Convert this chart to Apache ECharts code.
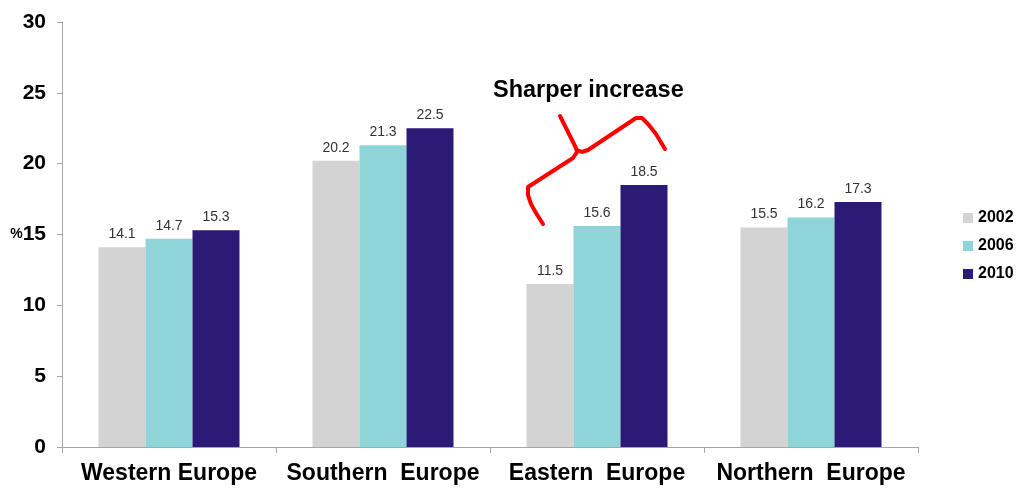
<!DOCTYPE html>
<html>
<head>
<meta charset="utf-8">
<script src="https://cdn.jsdelivr.net/npm/echarts@6/dist/echarts.min.js"></script>
<style>html,body{margin:0;padding:0;background:#fff}#c{width:1024px;height:494px}</style>
</head>
<body>
<div id="c"></div>
<script>
const categories = ['Western Europe', 'Southern  Europe', 'Eastern  Europe', 'Northern  Europe'];
const seriesNames = ['2002', '2006', '2010'];
const values2002 = [14.1, 20.2, 11.5, 15.5];
const values2006 = [14.7, 21.3, 15.6, 16.2];
const values2010 = [15.3, 22.5, 18.5, 17.3];
const colors = ['#d3d3d3', '#8fd4d9', '#2b1a76'];
const annotationText = 'Sharper increase';

const chart = echarts.init(document.getElementById('c'));
const font = 'Liberation Sans, Arial, sans-serif';
const mk = (name, data, color) => ({
  name, type: 'bar', data, barWidth: 47, barGap: '0%',
  itemStyle: { color },
  label: { show: true, position: 'top', distance: 6, color: '#333', fontSize: 14, fontFamily: font,
           formatter: p => p.value.toFixed(1) }
});
const bracketStyle = { fill: null, stroke: '#ff0000', lineWidth: 4, lineCap: 'round', lineJoin: 'round' };
chart.setOption({
  animation: false,
  color: colors,
  textStyle: { fontFamily: font },
  grid: { left: 62, right: 106, top: 22, bottom: 47, containLabel: false },
  legend: {
    orient: 'vertical', left: 958, top: 205, itemWidth: 10, itemHeight: 10, itemGap: 12,
    icon: 'rect',
    textStyle: { fontSize: 16, fontWeight: 'bold', color: '#000', fontFamily: font },
    data: seriesNames
  },
  xAxis: {
    type: 'category', data: categories,
    axisLine: { lineStyle: { color: '#a6a6a6', width: 1 } },
    axisTick: { show: true, length: 6, lineStyle: { color: '#a6a6a6' } },
    axisLabel: { interval: 0, fontSize: 23, fontWeight: 'bold', color: '#000', margin: 15, fontFamily: font }
  },
  yAxis: {
    type: 'value', min: 0, max: 30, interval: 5,
    splitLine: { show: false },
    axisLine: { show: true, lineStyle: { color: '#a6a6a6', width: 1 } },
    axisTick: { show: true, length: 5, lineStyle: { color: '#a6a6a6' } },
    axisLabel: {
      fontSize: 21, fontWeight: 'bold', color: '#000', margin: 16, fontFamily: font,
      formatter: v => v === 15 ? '{p|%}15' : String(v),
      rich: { p: { fontSize: 14, fontWeight: 'bold', color: '#000', fontFamily: font } }
    }
  },
  series: [
    mk(seriesNames[0], values2002, colors[0]),
    mk(seriesNames[1], values2006, colors[1]),
    mk(seriesNames[2], values2010, colors[2])
  ],
  graphic: [
    { type: 'text', left: 493, top: 79,
      style: { text: annotationText, fontSize: 23.5, fontWeight: 'bold', fill: '#000', fontFamily: font } },
    { type: 'polyline',
      shape: { points: [[543,224],[536,213],[531,204],[528,195],[528,187],[573,158],[577,152],[576,148],[560,116]] },
      style: bracketStyle },
    { type: 'polyline',
      shape: { points: [[577,150],[582,152],[588,150],[636,118],[642,118],[648,124],[656,134],[665,149]] },
      style: bracketStyle }
  ]
});
</script>
</body>
</html>
